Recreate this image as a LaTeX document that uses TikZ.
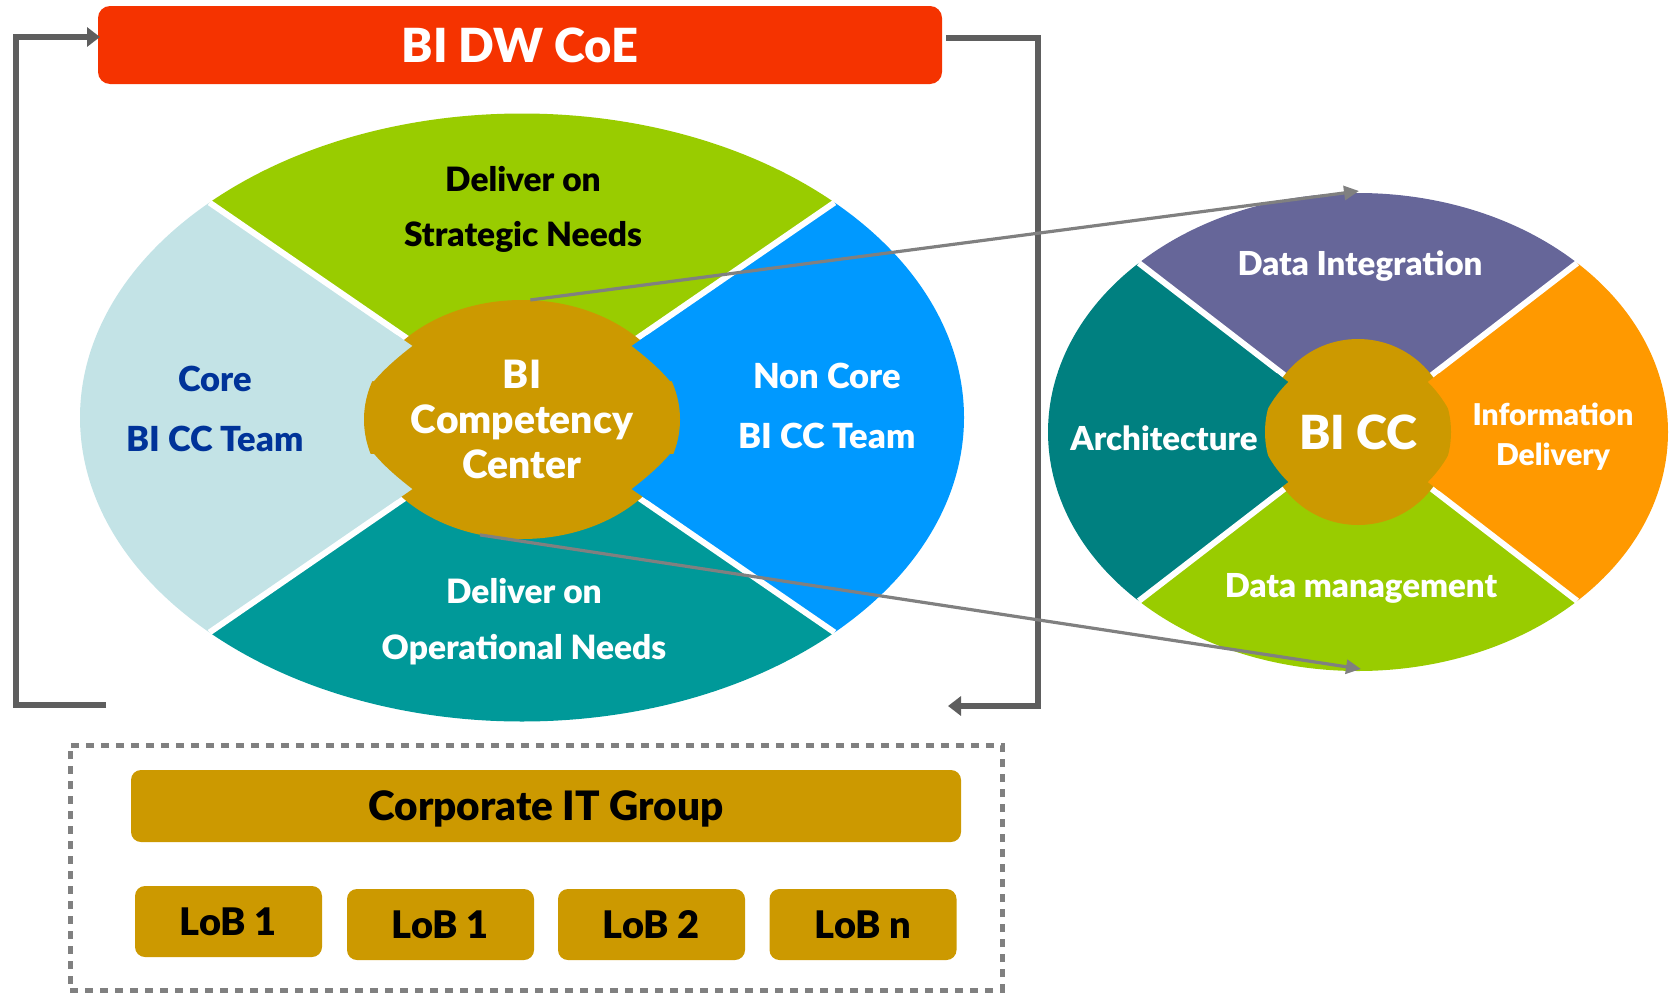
\documentclass[tikz,border=0pt]{standalone}
\usepackage{fontspec}
\setmainfont{Lato}[BoldFont={Lato Black}]
\usetikzlibrary{arrows.meta,shapes.geometric}
\definecolor{coeRed}{HTML}{F53300}
\definecolor{leafGreen}{HTML}{99CC00}
\definecolor{paleBlue}{HTML}{C3E3E6}
\definecolor{skyBlue}{HTML}{0099FF}
\definecolor{tealA}{HTML}{009999}
\definecolor{goldA}{HTML}{CC9900}
\definecolor{navyText}{HTML}{003399}
\definecolor{purpleA}{HTML}{666699}
\definecolor{tealB}{HTML}{008080}
\definecolor{orangeA}{HTML}{FF9900}
\definecolor{connGray}{HTML}{808080}
\definecolor{bracketGray}{HTML}{5E5E5E}
\newcommand\lblfont[2]{\fontsize{#1}{#2}\selectfont\bfseries}
\begin{document}
\begin{tikzpicture}[x=1pt,y=-1pt,
  lbl/.style={align=center, inner sep=0pt},
  sepline/.style={draw=white, line width=6pt},
  goldbox/.style={fill=goldA, rounded corners=10pt, inner sep=0pt, text=black, text depth=0pt},
  bracket/.style={draw=bracketGray, line width=6pt, miter limit=10, -{Triangle[length=13pt,width=19pt]}},
  conn/.style={draw=connGray, line width=3.2pt, -{Triangle[length=15pt,width=14pt]}}
]
\useasboundingbox (0,0) rectangle (1670,993);

% ---------- left ellipse ----------
\begin{scope}[shift={(522,417.5)}, xscale=442, yscale=304]
  \fill[leafGreen] (0,0) -- (225:1) arc[start angle=225, end angle=315, radius=1] -- cycle;
  \fill[skyBlue] (0,0) -- (-45:1) arc[start angle=-45, end angle=45, radius=1] -- cycle;
  \fill[tealA] (0,0) -- (45:1) arc[start angle=45, end angle=135, radius=1] -- cycle;
  \fill[paleBlue] (0,0) -- (135:1) arc[start angle=135, end angle=225, radius=1] -- cycle;
  \draw[sepline] (45:1) -- (225:1);
  \draw[sepline] (135:1) -- (315:1);
\end{scope}
\node[ellipse, fill=goldA, minimum width=316pt, minimum height=239pt, inner sep=0pt,
      align=center, text=white, font=\lblfont{39}{45}] (cc) at (522,419.5)
      {BI\\Competency\\Center};
\fill[paleBlue] (396.7,335.1) -- (412.3,345.9) .. controls (398,357) and (385,368) .. (374,381) -- (358,381) -- (358,335.1) -- cycle;
\fill[paleBlue] (396.7,499.9) -- (412.3,489.1) .. controls (398,478) and (385,467) .. (374,454) -- (358,454) -- (358,499.9) -- cycle;
\fill[skyBlue] (647.3,335.1) -- (631.7,345.9) .. controls (646,357) and (659,368) .. (670,381) -- (686,381) -- (686,335.1) -- cycle;
\fill[skyBlue] (647.3,499.9) -- (631.7,489.1) .. controls (646,478) and (659,467) .. (670,454) -- (686,454) -- (686,499.9) -- cycle;

\node[lbl, text=black, font=\lblfont{33.5}{55}] (strat) at (523,209) {Deliver on\\Strategic Needs};
\node[lbl, text=navyText, font=\lblfont{34.5}{60}] (core) at (215,409) {Core\\BI CC Team};
\node[lbl, text=white, font=\lblfont{34.5}{60}] (noncore) at (827,406) {Non Core\\BI CC Team};
\node[lbl, text=white, font=\lblfont{33.5}{56}] (oper) at (524,622) {Deliver on\\Operational Needs};

% ---------- right ellipse ----------
\begin{scope}[shift={(1358,432)}, xscale=310, yscale=239]
  \fill[purpleA] (0,0) -- (225:1) arc[start angle=225, end angle=315, radius=1] -- cycle;
  \fill[orangeA] (0,0) -- (-45:1) arc[start angle=-45, end angle=45, radius=1] -- cycle;
  \fill[leafGreen] (0,0) -- (45:1) arc[start angle=45, end angle=135, radius=1] -- cycle;
  \fill[tealB] (0,0) -- (135:1) arc[start angle=135, end angle=225, radius=1] -- cycle;
  \draw[sepline] (45:1) -- (225:1);
  \draw[sepline] (135:1) -- (315:1);
\end{scope}
\node[circle, fill=goldA, minimum size=186pt, inner sep=0pt, text=white,
      font=\lblfont{47}{50}] (bicc) at (1358,432) {BI CC};
\fill[tealB] (1277,373.3) -- (1288.1,381.9) .. controls (1280,390) and (1273,399) .. (1267,410) -- (1255,410) -- (1255,373.3) -- cycle;
\fill[tealB] (1277,490.7) -- (1288.1,482.1) .. controls (1280,474) and (1273,465) .. (1267,454) -- (1255,454) -- (1255,490.7) -- cycle;
\fill[orangeA] (1439,373.3) -- (1427.9,381.9) .. controls (1436,390) and (1443,399) .. (1449,410) -- (1461,410) -- (1461,373.3) -- cycle;
\fill[orangeA] (1439,490.7) -- (1427.9,482.1) .. controls (1436,474) and (1443,465) .. (1449,454) -- (1461,454) -- (1461,490.7) -- cycle;

\node[lbl, text=white, font=\lblfont{33}{36}] (dint) at (1360,266) {Data Integration};
\node[lbl, text=white, font=\lblfont{33}{36}] (arch) at (1164,438) {Architecture};
\node[lbl, text=white, font=\lblfont{30}{40}] (idel) at (1553,437) {Information\\Delivery};
\node[lbl, text=white, font=\lblfont{33}{36}] (dman) at (1361,588) {Data management};

% ---------- top box and brackets ----------
\node[fill=coeRed, rounded corners=12pt, minimum width=844pt, minimum height=78pt,
      inner sep=0pt, text=white, font=\lblfont{47}{50}] (coe) at (520,45) {BI DW CoE};

\coordinate (lbS) at (106,705);
\coordinate (coeL) at (100,37);
\draw[bracket] (lbS) -| (16,37) -- (coeL);
\coordinate (coeR) at (946,38);
\coordinate (rbE) at (948,706);
\draw[bracket] (coeR) -| (1038,706) -- (rbE);

% ---------- zoom connectors ----------
\coordinate (diTop) at (1359,191);
\coordinate (dmBot) at (1361,669);
\draw[conn] (cc.86) -- (diTop);
\draw[conn] (cc.250) -- (dmBot);

% ---------- bottom group ----------
\node[draw=connGray, line width=5pt, dash pattern=on 8pt off 7pt,
      minimum width=932pt, minimum height=245pt, inner sep=0pt] (grp) at (536,867.5) {};
\node[goldbox, minimum width=830pt, minimum height=72pt, font=\lblfont{40.5}{44}] (corp) at (546,806) {Corporate IT Group};
\node[goldbox, minimum width=187pt, minimum height=71pt, font=\lblfont{38}{40}] (lob1) at (228.5,921.5) {LoB 1};
\node[goldbox, minimum width=187pt, minimum height=71pt, font=\lblfont{38}{40}] (lob1b) at (440.5,924.5) {LoB 1};
\node[goldbox, minimum width=187pt, minimum height=71pt, font=\lblfont{38}{40}] (lob2) at (651.5,924.5) {LoB 2};
\node[goldbox, minimum width=187pt, minimum height=71pt, font=\lblfont{38}{40}] (lobn) at (863,924.5) {LoB n};
\end{tikzpicture}
\end{document}
